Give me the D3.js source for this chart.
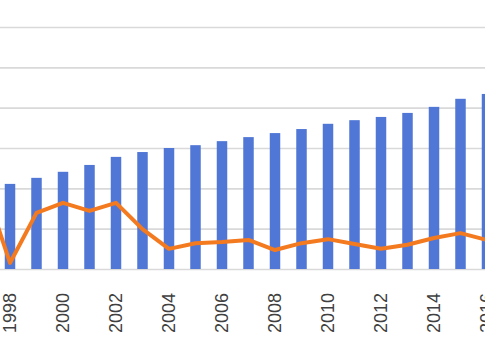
<!DOCTYPE html>
<html>
<head>
<meta charset="utf-8">
<script src="https://cdn.jsdelivr.net/npm/d3@7"></script>
<style>
  html, body { margin: 0; padding: 0; background: #ffffff; }
  svg { display: block; }
</style>
</head>
<body>
<div id="chart"></div>
<script>
const years = [1997, 1998, 1999, 2000, 2001, 2002, 2003, 2004, 2005, 2006, 2007,
               2008, 2009, 2010, 2011, 2012, 2013, 2014, 2015, 2016];
const barValues = [2.00, 2.11, 2.26, 2.41, 2.58, 2.78, 2.90, 3.00, 3.07, 3.17, 3.27,
                   3.37, 3.47, 3.60, 3.69, 3.77, 3.87, 4.02, 4.22, 4.34];
const lineValues = [2.13, 0.15, 1.39, 1.64, 1.44, 1.64, 0.99, 0.50, 0.64, 0.67, 0.72,
                    0.47, 0.64, 0.74, 0.62, 0.50, 0.60, 0.77, 0.89, 0.72];
const gridTicks = [0, 1, 2, 3, 4, 5, 6];
const yearLabels = [1998, 2000, 2002, 2004, 2006, 2008, 2010, 2012, 2014, 2016];

const W = 485, H = 360;
const svg = d3.select("#chart").append("svg").attr("width", W).attr("height", H);

const x = d3.scaleBand().domain(years).range([-21.75, 492.25])
  .paddingInner(0.604).paddingOuter(0);
const y = d3.scaleLinear().domain([0, 6]).range([269, 27]);

// gridlines
const grid = svg.append("g").attr("transform", "translate(0,0)")
  .call(d3.axisLeft(y).tickValues(gridTicks).tickSize(-W).tickFormat(""));
grid.select(".domain").remove();
grid.selectAll(".tick line").attr("stroke", "#d9d9d9").attr("stroke-width", 1.6);

// bars
svg.append("g").selectAll("rect").data(years).join("rect")
  .attr("x", d => x(d))
  .attr("width", x.bandwidth())
  .attr("y", (d, i) => y(barValues[i]))
  .attr("height", (d, i) => y(0) - y(barValues[i]))
  .attr("fill", "#5077d6");

// line
const line = d3.line()
  .x((d, i) => x(years[i]) + x.bandwidth() / 2)
  .y(d => y(d));
svg.append("path").datum(lineValues)
  .attr("d", line)
  .attr("fill", "none")
  .attr("stroke", "#f47a20")
  .attr("stroke-width", 4)
  .attr("stroke-linejoin", "round")
  .attr("stroke-linecap", "round");

// x axis labels
const xa = svg.append("g").attr("transform", `translate(0,${y(0)})`)
  .call(d3.axisBottom(x).tickValues(yearLabels).tickSize(0));
xa.select(".domain").remove();
xa.selectAll(".tick text")
  .attr("transform", "rotate(-90)")
  .attr("x", -24)
  .attr("y", 0)
  .attr("dy", "0.35em")
  .attr("text-anchor", "end")
  .attr("fill", "#404040")
  .style("font-family", "'Liberation Sans', Arial, sans-serif")
  .style("font-size", "18px");
</script>
</body>
</html>
